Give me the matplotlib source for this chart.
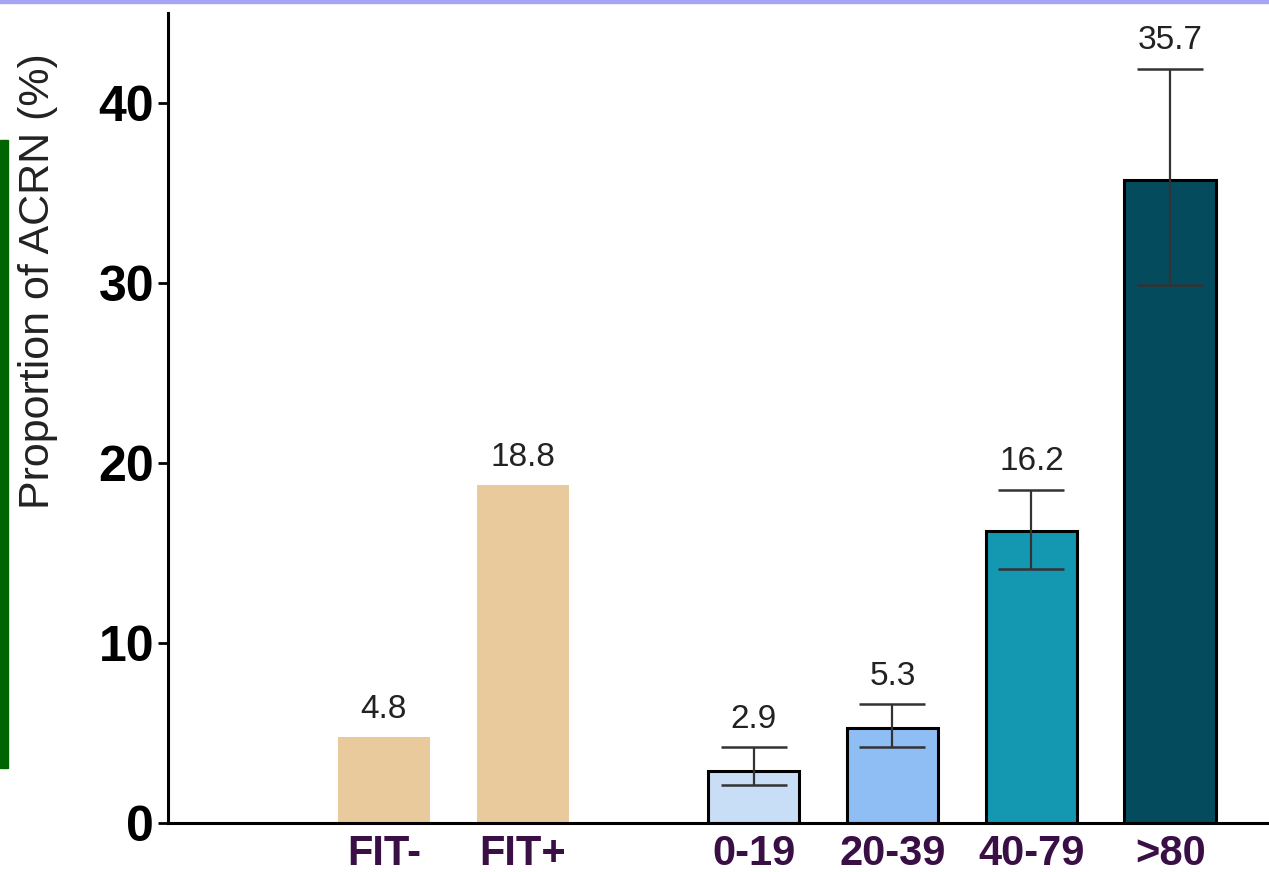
import numpy as np
import matplotlib
matplotlib.use("Agg")
import matplotlib.pyplot as plt
from matplotlib.patches import Rectangle

# data
fit_labels = ["FIT-", "FIT+"]
fit_values = [4.8, 18.8]
group_labels = ["0-19", "20-39", "40-79", ">80"]
group_values = [2.9, 5.3, 16.2, 35.7]
group_lower = [2.1, 4.2, 14.1, 29.9]
group_upper = [4.2, 6.6, 18.5, 41.9]

fit_color = "#E8CA9D"
group_colors = ["#C8DDF6", "#8EBEF4", "#1498B2", "#054B5E"]
label_color = "#3A0F45"
num_font = ["Liberation Sans Narrow", "Liberation Sans", "DejaVu Sans"]
txt_font = ["Liberation Sans", "DejaVu Sans"]

fig = plt.figure(figsize=(12.69, 8.72), dpi=100)
ax = fig.add_axes([0.1324, 0.0562, 0.8676, 0.9289])

width = 0.66
fit_x = np.arange(len(fit_labels))
grp_x = 2.66 + np.arange(len(group_labels))

ax.bar(fit_x, fit_values, width=width, color=fit_color, linewidth=0)
ax.bar(grp_x, group_values, width=width, color=group_colors,
       edgecolor="black", linewidth=2.2)

yerr = [np.array(group_values) - np.array(group_lower),
        np.array(group_upper) - np.array(group_values)]
ax.errorbar(grp_x, group_values, yerr=yerr, fmt="none", ecolor="#333333",
            elinewidth=1.6, capsize=24, capthick=1.8)

for x, v in zip(fit_x, fit_values):
    ax.annotate(f"{v}", (x, v), xytext=(0, 8), textcoords="offset points",
                ha="center", va="bottom", fontsize=24, color="#222222",
                family=txt_font)
for x, v, u in zip(grp_x, group_values, group_upper):
    ax.annotate(f"{v}", (x, u), xytext=(0, 9), textcoords="offset points",
                ha="center", va="bottom", fontsize=24, color="#222222",
                family=txt_font)

ax.set_xlim(-1.554, 6.37)
ax.set_ylim(0, 45)
ax.set_yticks([0, 10, 20, 30, 40])
ax.set_xticks(list(fit_x) + list(grp_x))
ax.set_xticklabels(fit_labels + group_labels)

for lab in ax.get_yticklabels():
    lab.set_fontsize(36)
    lab.set_fontweight("bold")
    lab.set_family(num_font)
for lab in ax.get_xticklabels():
    lab.set_fontsize(30)
    lab.set_fontweight("bold")
    lab.set_color(label_color)
    lab.set_family(txt_font)

ax.tick_params(axis="y", length=7, width=2, pad=3)
ax.tick_params(axis="x", length=0, pad=8)
ax.spines["top"].set_visible(False)
ax.spines["right"].set_visible(False)
ax.spines["left"].set_linewidth(2.2)
ax.spines["bottom"].set_linewidth(2.2)

fig.text(0.030, 0.678, "Proportion of ACRN (%)", rotation=90, ha="center",
         va="center", fontsize=31, color="#222222", family=txt_font)

# decorations from the slide
fig.patches.append(Rectangle((0, 1 - 3 / 872), 1, 3 / 872, transform=fig.transFigure,
                             color="#A5A5F5", zorder=0))
fig.patches.append(Rectangle((0, 1 - 768 / 872), 8 / 1269, (768 - 140) / 872,
                             transform=fig.transFigure, color="#006400", zorder=0))

fig.savefig("out.png", dpi=100)
